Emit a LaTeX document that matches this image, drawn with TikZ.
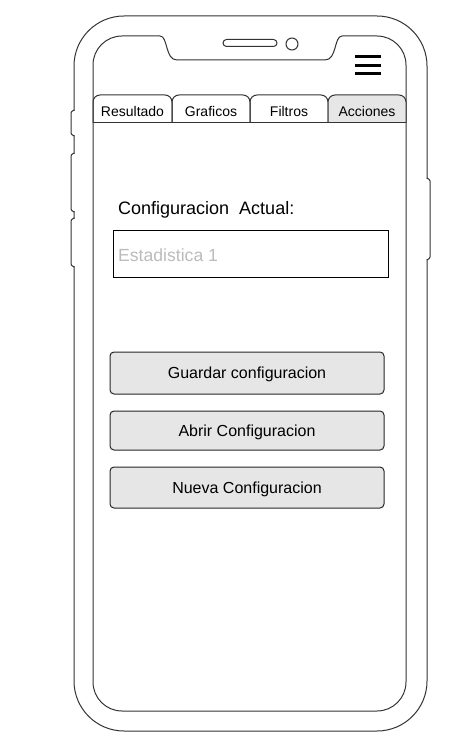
\documentclass[tikz,border=0pt]{standalone}
\usepackage{fontspec}
\setmainfont{Liberation Sans}
\definecolor{btnfill}{HTML}{E6E6E6}
\definecolor{phcol}{HTML}{BBBBBB}
\begin{document}
\begin{tikzpicture}[x=1pt,y=-1pt,
  phone/.style={draw=black!80, line width=1pt},
  tabtext/.style={font=\fontsize{14}{16}\selectfont, anchor=base, inner sep=0pt},
  btn/.style={draw=black!85, line width=1pt, fill=btnfill, rounded corners=4pt, minimum width=274pt, font=\fontsize{16}{19}\selectfont, text height=11.5pt, text depth=0pt, inner sep=0pt},
  bump/.style={draw=black!80, line width=1pt, rounded corners=1pt},
]
\useasboundingbox (0,0) rectangle (466,751);

% phone body
\draw[phone, rounded corners=50pt] (74,16) rectangle (427,731);
% side buttons
\foreach \ya/\yb in {110/136, 153/212, 218/267} {
  \fill[white] (72.5,\ya+1) rectangle (75.5,\yb-1);
  \draw[bump] (74,\ya) -- (71,\ya+2) -- (71,\yb-2) -- (74,\yb);
}
\fill[white] (425.5,179) rectangle (428.5,259);
\draw[bump] (427,178) -- (430,180) -- (430,258) -- (427,260);

% screen with notch
\draw[phone] (160,36) .. controls (168,36) and (165,60) .. (177,60) -- (325,60)
  .. controls (337,60) and (334,36) .. (342,36) [rounded corners=29pt]
  -- (406,36) -- (406,711) -- (93,711) -- (93,36) -- (160,36);

% speaker and camera
\draw[phone, rounded corners=3.5pt] (223,39.5) rectangle (277,46.5);
\draw[phone] (292,44) circle[radius=6];

% hamburger menu
\foreach \yy in {57,65.5,74} {
  \draw[line width=3pt] (355,\yy) -- (381,\yy);
}

% tabs
\foreach \xa/\xb in {93/172, 172/250, 250/328} {
  \draw[phone, rounded corners=7pt] (\xa,123) -- (\xa,95) -- (\xb,95) -- (\xb,123);
}
\draw[phone, fill=btnfill, rounded corners=7pt] (328,123) -- (328,95) -- (406,95) -- (406,123);
\draw[phone] (93,123) -- (406,123);
\node[tabtext] (t1) at (132.5,116.5) {Resultado};
\node[tabtext] (t2) at (211,116.5) {Graficos};
\node[tabtext] (t3) at (289,116.5) {Filtros};
\node[tabtext] (t4) at (367,116.5) {Acciones};

% label and field
\node[anchor=base west, inner sep=0pt, font=\fontsize{18}{21}\selectfont] (lbl) at (118,214.3) {Configuracion\ \ Actual:};
\node[draw=black, line width=1pt, minimum width=275pt, minimum height=47pt, inner sep=0pt] (field) at (250.5,253.5) {};
\node[anchor=base west, inner sep=0pt, text=phcol, font=\fontsize{17.6}{20}\selectfont] (ph) at (118,261) {Estadistica 1};

% buttons
\node[btn, minimum height=42pt] (b1) at (247,373) {Guardar configuracion};
\node[btn, minimum height=39pt] (b2) at (247,430.5) {Abrir Configuracion};
\node[btn, minimum height=41pt] (b3) at (247,487.5) {Nueva Configuracion};
\end{tikzpicture}
\end{document}
